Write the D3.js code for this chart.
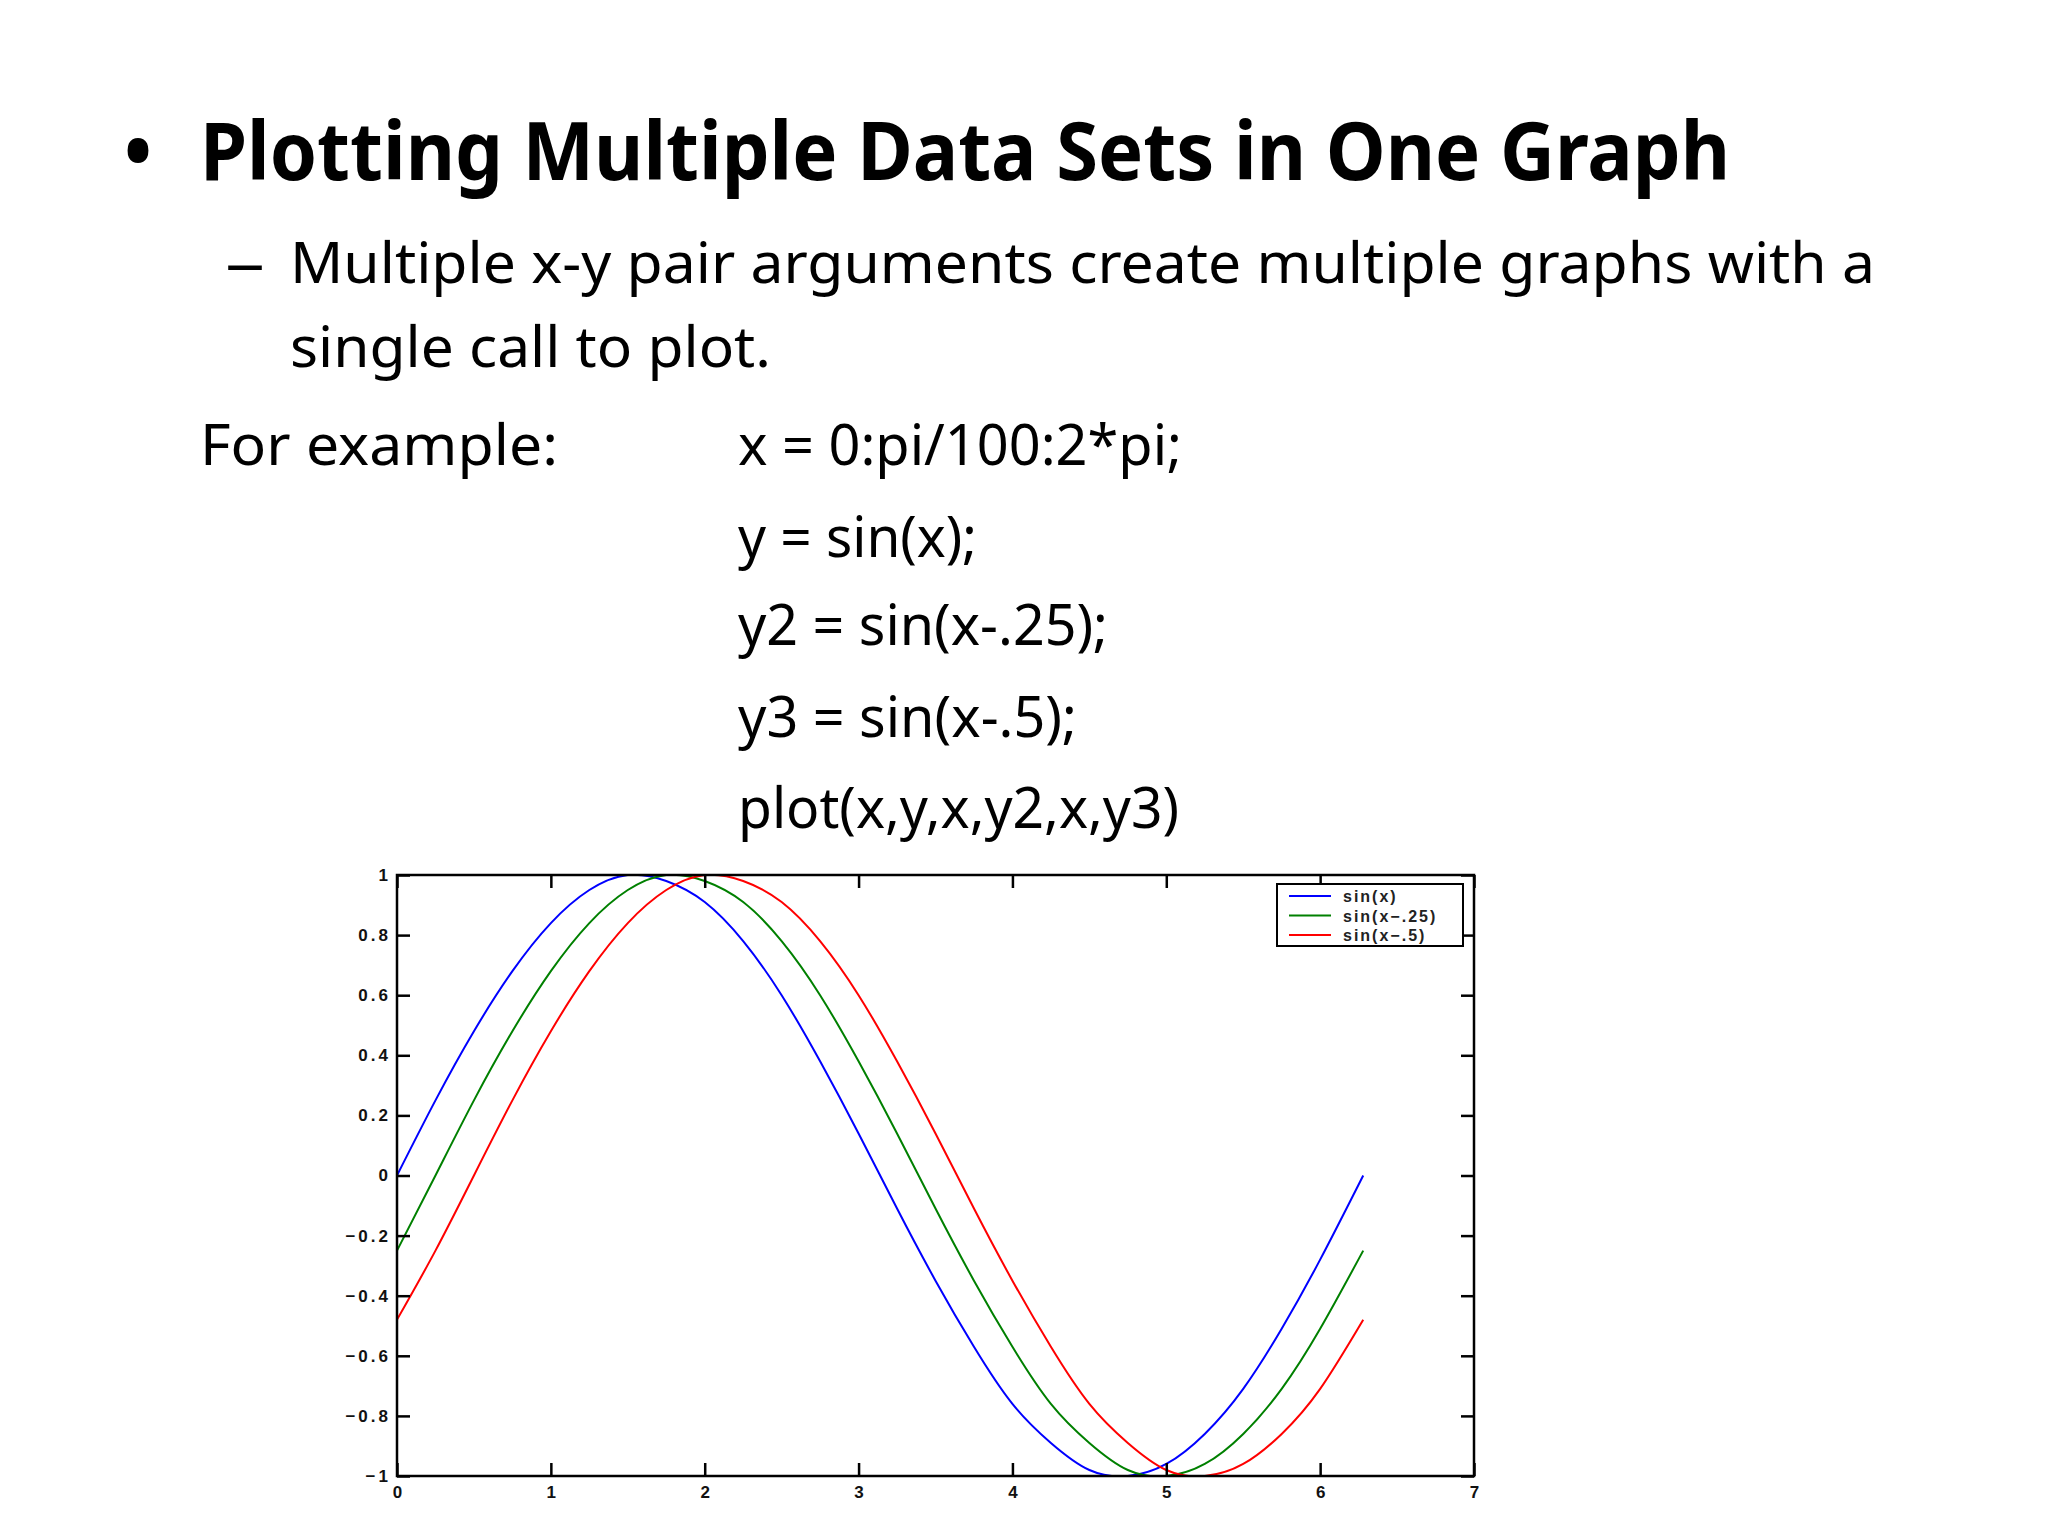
<!DOCTYPE html>
<html>
<head>
<meta charset="utf-8">
<script src="https://cdn.jsdelivr.net/npm/d3@7"></script>
<style>
  html, body { margin: 0; padding: 0; background: #fff; }
  svg { display: block; }
</style>
</head>
<body>
<div id="chart"></div>
<script>
// values
const xs = [0, 0.25, 0.5, 0.75, 1, 1.25, 1.5, 1.75, 2, 2.25, 2.5, 2.75, 3, 3.25, 3.5, 3.75,
  4, 4.25, 4.5, 4.75, 5, 5.25, 5.5, 5.75, 6, 6.28];
const ySin = [0.00, 0.25, 0.48, 0.68, 0.84, 0.95, 1.00, 0.98, 0.91, 0.78, 0.60, 0.38, 0.14, -0.11, -0.35, -0.57,
  -0.76, -0.89, -0.98, -1.00, -0.96, -0.86, -0.71, -0.51, -0.28, 0.00];
const ySin25 = [-0.25, 0.00, 0.25, 0.48, 0.68, 0.84, 0.95, 1.00, 0.98, 0.91, 0.78, 0.60, 0.38, 0.14, -0.11, -0.35,
  -0.57, -0.76, -0.89, -0.98, -1.00, -0.96, -0.86, -0.71, -0.51, -0.25];
const ySin5 = [-0.48, -0.25, 0.00, 0.25, 0.48, 0.68, 0.84, 0.95, 1.00, 0.98, 0.91, 0.78, 0.60, 0.38, 0.14, -0.11,
  -0.35, -0.57, -0.76, -0.89, -0.98, -1.00, -0.96, -0.86, -0.71, -0.48];
const seriesNames = ["sin(x)", "sin(x\u2212.25)", "sin(x\u2212.5)"];
const seriesColors = ["#0000ff", "#008000", "#ff0000"];
const xTicks = [0, 1, 2, 3, 4, 5, 6, 7];
const yTicks = [-1, -0.8, -0.6, -0.4, -0.2, 0, 0.2, 0.4, 0.6, 0.8, 1];

const codeLines = ["x = 0:pi/100:2*pi;", "y = sin(x);", "y2 = sin(x-.25);", "y3 = sin(x-.5);", "plot(x,y,x,y2,x,y3)"];

const width = 2048, height = 1536;
const svg = d3.select("#chart").append("svg")
  .attr("width", width)
  .attr("height", height);

// slide text
const slideFont = "'Noto Sans', 'Open Sans', sans-serif";
function slideText(x, y, str, size, len, weight) {
  svg.append("text")
    .attr("x", x).attr("y", y)
    .attr("font-family", slideFont)
    .attr("font-size", size)
    .attr("font-weight", weight || "normal")
    .attr("textLength", len)
    .attr("lengthAdjust", "spacingAndGlyphs")
    .text(str);
}

slideText(124, 180, "\u2022", 80, 28, "bold");
slideText(200, 180, "Plotting Multiple Data Sets in One Graph", 80, 1530, "bold");
slideText(225, 283, "\u2013", 56, 40);
slideText(290, 283, "Multiple x-y pair arguments create multiple graphs with a", 56, 1585);
slideText(290, 367, "single call to plot.", 56, 481);
slideText(200, 465, "For example:", 56, 358);

const codeY = [465, 557, 645, 737, 828];
const codeLen = [444, 239, 370, 339, 441];
codeLines.forEach((s, i) => slideText(738, codeY[i], s, 56, codeLen[i]));

// plot
const x = d3.scaleLinear().domain([0, 7]).range([397, 1474]);
const y = d3.scaleLinear().domain([-1, 1]).range([1476, 875]);

const series = [ySin, ySin25, ySin5];
const line = d3.line()
  .x(d => x(d[0]))
  .y(d => y(d[1]))
  .curve(d3.curveNatural);

svg.append("defs").append("clipPath").attr("id", "clip")
  .append("rect")
  .attr("x", x(0)).attr("y", y(1))
  .attr("width", x(7) - x(0)).attr("height", y(-1) - y(1));

series.forEach((vals, i) => {
  svg.append("path")
    .datum(xs.map((v, j) => [v, vals[j]]))
    .attr("clip-path", "url(#clip)")
    .attr("fill", "none")
    .attr("stroke", seriesColors[i])
    .attr("stroke-width", 2)
    .attr("d", line);
});

const tickLen = 13;
const fmt = d => (d < 0 ? "\u2212" : "") + String(Math.abs(d));

const axisFont = "'Liberation Sans', Arial, sans-serif";

const axBottom = svg.append("g")
  .attr("transform", `translate(0,${y(-1)})`)
  .call(d3.axisBottom(x).tickValues(xTicks).tickSizeInner(-tickLen).tickSizeOuter(0).tickPadding(10).tickFormat(d3.format("d")));
const axTop = svg.append("g")
  .attr("transform", `translate(0,${y(1)})`)
  .call(d3.axisTop(x).tickValues(xTicks).tickSizeInner(-tickLen).tickSizeOuter(0).tickFormat(""));
const axLeft = svg.append("g")
  .attr("transform", `translate(${x(0)},0)`)
  .call(d3.axisLeft(y).tickValues(yTicks).tickSizeInner(-tickLen).tickSizeOuter(0).tickPadding(6).tickFormat(fmt));
const axRight = svg.append("g")
  .attr("transform", `translate(${x(7)},0)`)
  .call(d3.axisRight(y).tickValues(yTicks).tickSizeInner(-tickLen).tickSizeOuter(0).tickFormat(""));

[axBottom, axTop, axLeft, axRight].forEach(g => {
  g.select(".domain").remove();
  g.selectAll(".tick line").attr("stroke", "#000").attr("stroke-width", 2.5);
  g.selectAll(".tick text")
    .attr("font-family", axisFont)
    .attr("font-size", 17)
    .attr("font-weight", "bold")
    .attr("fill", "#111");
});
axLeft.selectAll(".tick text").attr("letter-spacing", 3);

svg.append("rect")
  .attr("x", x(0)).attr("y", y(1))
  .attr("width", x(7) - x(0)).attr("height", y(-1) - y(1))
  .attr("fill", "none")
  .attr("stroke", "#000")
  .attr("stroke-width", 2.5);

// legend
const legend = svg.append("g").attr("transform", "translate(1277,884)");
legend.append("rect")
  .attr("width", 186).attr("height", 62)
  .attr("fill", "#fff")
  .attr("stroke", "#000")
  .attr("stroke-width", 2);
seriesNames.forEach((name, i) => {
  const ly = 12 + i * 19.5;
  legend.append("line")
    .attr("x1", 12).attr("x2", 54)
    .attr("y1", ly).attr("y2", ly)
    .attr("stroke", seriesColors[i])
    .attr("stroke-width", 2);
  legend.append("text")
    .attr("x", 66).attr("y", ly + 6)
    .attr("font-family", axisFont)
    .attr("font-size", 16)
    .attr("font-weight", "bold")
    .attr("letter-spacing", 2)
    .attr("fill", "#222")
    .text(name);
});
</script>
</body>
</html>
